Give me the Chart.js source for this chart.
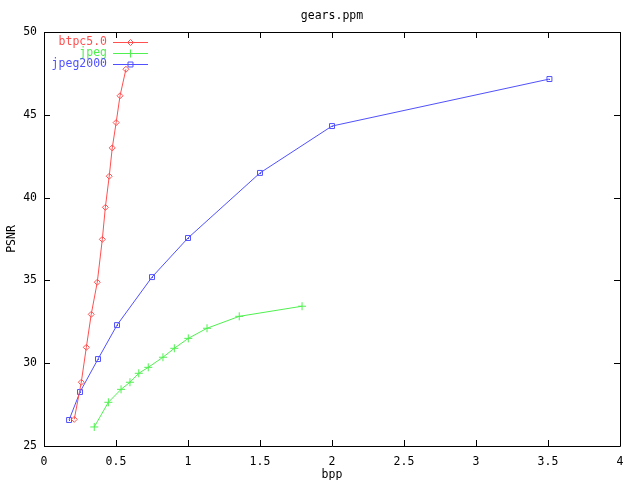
<!DOCTYPE html>
<html>
<head>
<meta charset="utf-8">
<title>gears.ppm</title>
<script src="https://cdn.jsdelivr.net/npm/chart.js"></script>
<style>
  html, body { margin: 0; padding: 0; background: #fff; }
  #wrap { width: 640px; height: 480px; }
</style>
</head>
<body>
<div id="wrap"><canvas id="psnrChart" width="640" height="480"></canvas></div>
<script>
const chartTitle = 'gears.ppm';
const xTitle = 'bpp';
const yTitle = 'PSNR';
const xTicks = [0, 0.5, 1, 1.5, 2, 2.5, 3, 3.5, 4];
const yTicks = [25, 30, 35, 40, 45, 50];

const btpcBpp  = [0.210, 0.259, 0.294, 0.328, 0.370, 0.405, 0.426, 0.453, 0.474, 0.501, 0.528, 0.569];
const btpcPsnr = [26.61, 28.85, 30.96, 32.95, 34.89, 37.48, 39.41, 41.29, 43.00, 44.53, 46.15, 47.75];

const jpegBpp  = [0.349, 0.447, 0.535, 0.597, 0.658, 0.724, 0.826, 0.905, 1.002, 1.132, 1.356, 1.792];
const jpegPsnr = [26.15, 27.64, 28.42, 28.85, 29.39, 29.75, 30.36, 30.90, 31.50, 32.11, 32.83, 33.44];

const j2kBpp  = [0.174, 0.250, 0.375, 0.507, 0.750, 1.000, 1.500, 2.000, 3.510];
const j2kPsnr = [26.57, 28.26, 30.25, 32.30, 35.20, 37.56, 41.49, 44.32, 47.16];

const FONT = '"DejaVu Sans Mono", "Liberation Mono", monospace';
const FSIZE = 11.5;

function pts(xs, ys) {
	return xs.map((x, i) => ({ x: x, y: ys[i] }));
}

// gnuplot-like frame: full box, inward ticks mirrored on all sides
const framePlugin = {
	id: 'frame',
	afterDraw(chart) {
		const ctx = chart.ctx;
		const a = chart.chartArea;
		const xs = chart.scales.x, ys = chart.scales.y;
		ctx.save();
		ctx.strokeStyle = '#000';
		ctx.lineWidth = 1;
		ctx.beginPath();
		ctx.rect(Math.round(a.left) + 0.5, Math.round(a.top) + 0.5,
			Math.round(a.right - a.left), Math.round(a.bottom - a.top));
		for (const v of xTicks) {
			const px = Math.round(xs.getPixelForValue(v)) + 0.5;
			ctx.moveTo(px, a.bottom); ctx.lineTo(px, a.bottom - 6);
			ctx.moveTo(px, a.top); ctx.lineTo(px, a.top + 6);
		}
		for (const v of yTicks) {
			const py = Math.round(ys.getPixelForValue(v)) + 0.5;
			ctx.moveTo(a.left, py); ctx.lineTo(a.left + 6, py);
			ctx.moveTo(a.right, py); ctx.lineTo(a.right - 6, py);
		}
		ctx.stroke();

		// title
		ctx.fillStyle = '#000';
		ctx.font = FSIZE + 'px ' + FONT;
		ctx.textAlign = 'center';
		ctx.textBaseline = 'middle';
		ctx.fillText(chartTitle, (a.left + a.right) / 2, 16);
		ctx.restore();
	},
	afterDatasetsDraw(chart) {
		// center dot inside the jpeg2000 squares
		const ctx = chart.ctx;
		ctx.save();
		chart.data.datasets.forEach((ds, i) => {
			if (!ds.centerDot) return;
			ctx.fillStyle = ds.borderColor;
			chart.getDatasetMeta(i).data.forEach((el) => {
				ctx.fillRect(Math.round(el.x), Math.round(el.y), 1, 1);
			});
		});
		ctx.restore();
	}
};

// legend top-left, text right aligned, sample line with marker on the right
const keyPlugin = {
	id: 'key',
	afterDraw(chart) {
		const ctx = chart.ctx;
		ctx.save();
		ctx.font = FSIZE + 'px ' + FONT;
		ctx.textAlign = 'right';
		ctx.textBaseline = 'middle';
		chart.data.datasets.forEach((ds, i) => {
			const y = 42.5 + i * 11;
			ctx.fillStyle = ds.borderColor;
			ctx.fillText(ds.label, 107, y);
			ctx.strokeStyle = ds.borderColor;
			ctx.lineWidth = 1;
			ctx.beginPath();
			ctx.moveTo(113, y); ctx.lineTo(148, y);
			ctx.stroke();
			ctx.fillStyle = 'rgba(0,0,0,0)';
			Chart.helpers.drawPoint(ctx, {
				pointStyle: ds.pointStyle,
				radius: ds.pointRadius,
				rotation: 0,
				borderWidth: 1
			}, 130.5, y);
			if (ds.centerDot) {
				ctx.fillStyle = ds.borderColor;
				ctx.fillRect(130, Math.floor(y), 1, 1);
			}
		});
		ctx.restore();
	}
};

new Chart(document.getElementById('psnrChart').getContext('2d'), {
	type: 'line',
	data: {
		datasets: [{
			label: 'btpc5.0',
			data: pts(btpcBpp, btpcPsnr),
			borderColor: 'rgb(255, 80, 80)',
			backgroundColor: 'rgba(0,0,0,0)',
			borderWidth: 1,
			pointStyle: 'rectRot',
			pointRadius: 3,
			pointBorderWidth: 1,
			tension: 0
		}, {
			label: 'jpeg',
			data: pts(jpegBpp, jpegPsnr),
			borderColor: 'rgb(80, 240, 80)',
			backgroundColor: 'rgba(0,0,0,0)',
			borderWidth: 1,
			pointStyle: 'cross',
			pointRadius: 4,
			pointBorderWidth: 1,
			tension: 0
		}, {
			label: 'jpeg2000',
			data: pts(j2kBpp, j2kPsnr),
			borderColor: 'rgb(80, 80, 255)',
			backgroundColor: 'rgba(0,0,0,0)',
			borderWidth: 1,
			pointStyle: 'rect',
			pointRadius: 3.5,
			pointBorderWidth: 1,
			centerDot: true,
			tension: 0
		}]
	},
	options: {
		responsive: false,
		animation: false,
		events: [],
		layout: { padding: { top: 32, right: 20, left: 0, bottom: 0 } },
		plugins: {
			legend: { display: false },
			title: { display: false },
			tooltip: { enabled: false }
		},
		scales: {
			x: {
				type: 'linear',
				min: 0,
				max: 4,
				afterBuildTicks: (s) => { s.ticks = xTicks.map((v) => ({ value: v })); },
				afterFit: (s) => { s.height = 34; },
				grid: { display: false, drawTicks: false },
				border: { display: false },
				ticks: {
					color: '#000',
					padding: 9,
					maxRotation: 0,
					font: { family: FONT, size: FSIZE },
					callback: (v) => String(v)
				},
				title: {
					display: true,
					text: xTitle,
					color: '#000',
					padding: { top: 0, bottom: -1 },
					font: { family: FONT, size: FSIZE, lineHeight: 1 }
				}
			},
			y: {
				type: 'linear',
				min: 25,
				max: 50,
				afterBuildTicks: (s) => { s.ticks = yTicks.map((v) => ({ value: v })); },
				afterFit: (s) => { s.width = 44; },
				grid: { display: false, drawTicks: false },
				border: { display: false },
				ticks: {
					color: '#000',
					padding: 7,
					font: { family: FONT, size: FSIZE },
					callback: (v) => String(v)
				},
				title: {
					display: true,
					text: yTitle,
					color: '#000',
					padding: { top: 6, bottom: 0 },
					font: { family: FONT, size: FSIZE, lineHeight: 1 }
				}
			}
		}
	},
	plugins: [framePlugin, keyPlugin]
});
</script>
</body>
</html>
